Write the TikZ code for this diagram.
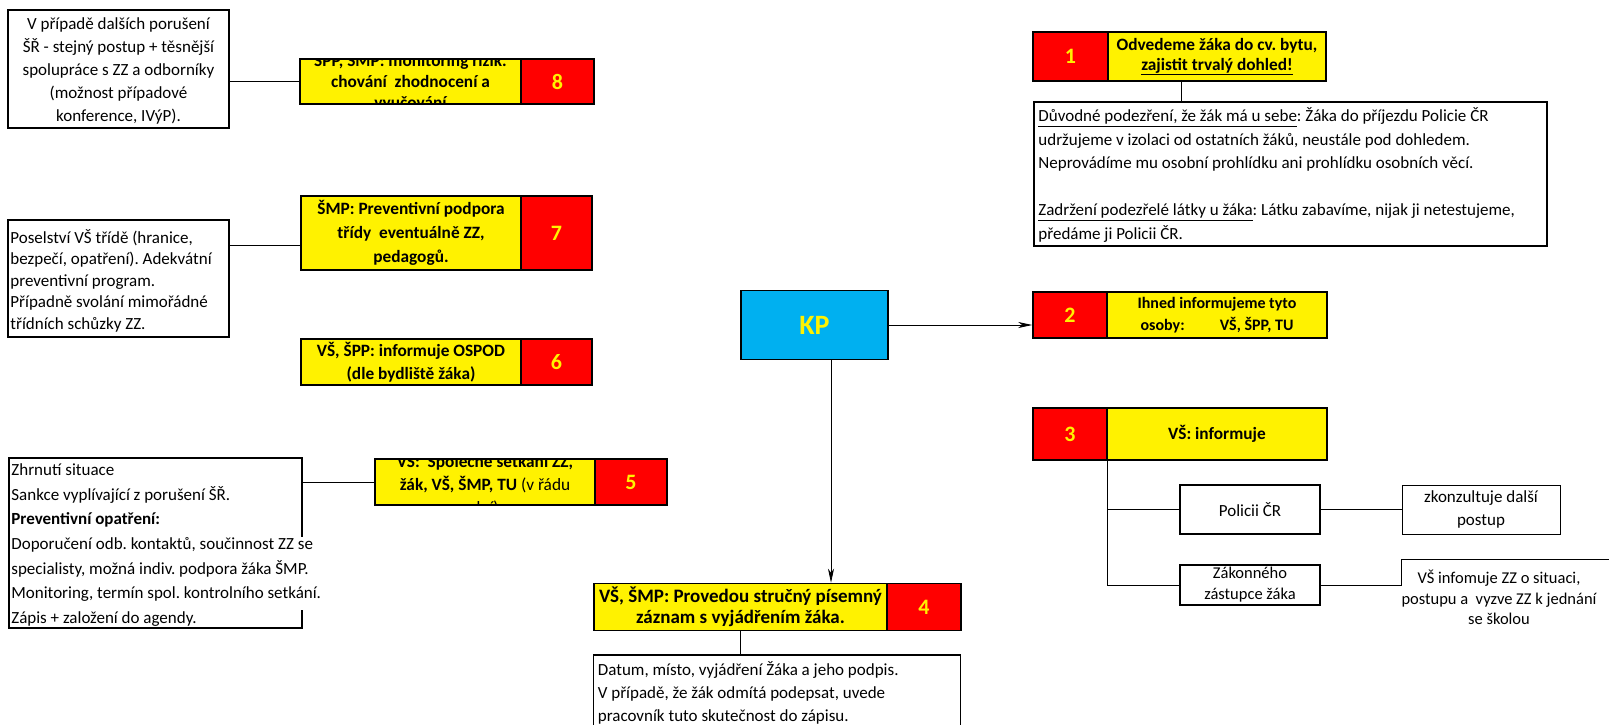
\documentclass[tikz,border=0pt]{standalone}
\usepackage{fontspec}
\setmainfont{Carlito}
\usetikzlibrary{arrows.meta}
\frenchspacing

\definecolor{kpblue}{HTML}{00B0F0}

\newcommand{\txtfont}{\fontsize{17}{23.5}\selectfont}
\newcommand{\hdfont}{\fontsize{17.3}{21.5}\selectfont\bfseries}
\newcommand{\numfont}{\fontsize{22}{24}\selectfont\bfseries}

\tikzset{
  ybox/.style={draw, line width=1.6pt, fill=yellow, inner sep=0pt, font=\hdfont, align=center},
  rbox/.style={draw, line width=1.6pt, fill=red, text=yellow, inner sep=0pt, font=\numfont},
  tbox/.style={draw, line width=1.6pt, fill=white, inner sep=0pt},
  txt/.style={inner sep=0pt, font=\txtfont, align=left},
  sbox/.style={draw, line width=1.4pt, inner sep=0pt, font=\txtfont, align=center},
  hdtext/.style={inner sep=0pt, font=\hdfont, align=center},
  conn/.style={line width=0.8pt},
}

\begin{document}
\begin{tikzpicture}
[x=1pt, y=-1pt, >={Stealth[length=14pt, width=6pt, inset=4pt]}]
\useasboundingbox (0,0) rectangle (1609,724);

% KP
\node[draw, line width=1.6pt, fill=kpblue, text=yellow, font=\fontsize{28}{30}\selectfont\bfseries,
  minimum width=147, minimum height=69] (kp) at (814.5,325) {KP};

% 1
\node[rbox, minimum width=75, minimum height=49] (r1) at (1070.5,56.5) {1};
\node[ybox, minimum width=218, minimum height=49, font=\fontsize{17.3}{20}\selectfont\bfseries] (y1) at (1217,56.5)
  {Odvedeme žáka do cv. bytu,\\\underline{zajistit trvalý dohled!}};
\node[tbox, minimum width=513, minimum height=144] (t1) at (1290.5,174) {};
\node[txt, anchor=west] (t1text) at ([xshift=5pt,yshift=-1pt]t1.west)
  {\underline{Důvodné podezření, že žák má u sebe}: Žáka do příjezdu Policie ČR\\
   udržujeme v izolaci od ostatních žáků, neustále pod dohledem.\\
   Neprovádíme mu osobní prohlídku ani prohlídku osobních věcí.\\[23.5pt]
   \underline{Zadržení podezřelé látky u žáka}: Látku zabavíme, nijak ji netestujeme,\\
   předáme ji Policii ČR.};
\coordinate (k1) at (1181,0);
\draw[conn] (y1.south -| k1) -- (t1.north -| k1);

% 2
\node[rbox, minimum width=74, minimum height=46] (r2) at (1070,315) {2};
\node[ybox, minimum width=220, minimum height=46, font=\fontsize{16}{21.5}\selectfont\bfseries] (y2) at (1217,315)
  {Ihned informujeme tyto\\osoby:\hspace{2.2em}VŠ, ŠPP, TU};
\draw[conn,->] (kp) -- (kp -| r2.west);

% 3
\node[rbox, minimum width=74, minimum height=52] (r3) at (1070,434) {3};
\node[ybox, minimum width=220, minimum height=52] (y3) at (1217,434) {VŠ: informuje};
\node[sbox, minimum width=140, minimum height=49] (pol) at (1250,509.5) {Policii ČR};
\node[sbox, line width=1pt, minimum width=158, minimum height=49, font=\fontsize{17}{23}\selectfont] (zk) at (1481,509.5)
  {zkonzultuje další\\postup};
\node[sbox, minimum width=140, minimum height=40, font=\fontsize{16.5}{21}\selectfont] (zak) at (1250,585)
  {Zákonného\\zástupce žáka};
\node[inner sep=0pt, align=center, font=\fontsize{16.5}{20.5}\selectfont] (vsi) at (1499,597.5)
  {VŠ infomuje ZZ o situaci,\\postupu a\ \ vyzve ZZ k jednání\\se školou};
\coordinate (vsiin) at (1401.7,585);
\draw[line width=1pt] (vsiin) |- (1620,559);
\draw[conn] (r3.south east) |- (pol.west);
\draw[conn] (r3.south east) |- (zak.west);
\draw[conn] (pol) -- (zk);
\draw[conn] (zak.east) -- (vsiin);

% 4
\node[ybox, minimum width=293, minimum height=47, font=\fontsize{19}{21.5}\selectfont\bfseries] (y4) at (740.5,607)
  {VŠ, ŠMP: Provedou stručný písemný\\záznam s vyjádřením žáka.};
\node[rbox, minimum width=74, minimum height=47] (r4) at (924,607) {4};
\node[tbox, minimum width=367, minimum height=78] (t4) at (777,694) {};
\node[txt, anchor=west, font=\fontsize{17}{23}\selectfont] (t4text) at ([xshift=5pt,yshift=1pt]t4.west)
  {Datum, místo, vyjádření Žáka a jeho podpis.\\
   V případě, že žák odmítá podepsat, uvede\\
   pracovník tuto skutečnost do zápisu.};
\draw[conn,->] ([xshift=16.5pt]kp.south) -- ([xshift=16.5pt]kp.south |- y4.north);
\draw[conn] (y4) -- (y4 |- t4.north);

% 5
\node[ybox, minimum width=220, minimum height=46] (y5) at (485,482) {};
\begin{scope}
\clip (y5.south west) rectangle (y5.north east);
\node[hdtext, font=\fontsize{17.3}{23}\selectfont\bfseries] (y5text) at ([yshift=-3pt]y5.center)
  {VŠ:\ \ Společné setkání ZZ,\\žák, VŠ, ŠMP, TU \textmd{(v řádu}\\\textmd{dní)}};
\end{scope}
\node[rbox, minimum width=72, minimum height=46] (r5) at (631,482) {5};
\node[tbox, minimum width=293, minimum height=170] (t5) at (155.5,543) {};
\fill[white] ([xshift=-2pt]t5.east |- 0,537) rectangle ([xshift=2pt]t5.east |- 0,610);
\node[txt, anchor=west, font=\fontsize{17}{24.7}\selectfont] (t5text) at ([xshift=3pt,yshift=-2pt]t5.west)
  {Zhrnutí situace\\
   Sankce vyplívající z porušení ŠŘ.\\
   \textbf{Preventivní opatření:}\\
   Doporučení odb. kontaktů, součinnost ZZ se\\
   specialisty, možná indiv. podpora žáka ŠMP.\\
   Monitoring, termín spol. kontrolního setkání.\\
   Zápis + založení do agendy.};
\draw[conn] (t5.east |- y5.west) -- (y5.west);

% 6
\node[ybox, minimum width=220, minimum height=46, font=\fontsize{17.3}{23.5}\selectfont\bfseries] (y6) at (411,362)
  {VŠ, ŠPP: informuje OSPOD\\(dle bydliště žáka)};
\node[rbox, minimum width=71, minimum height=46] (r6) at (556.5,362) {6};

% 7
\node[ybox, minimum width=220, minimum height=74, font=\fontsize{17.3}{24}\selectfont\bfseries] (y7) at (411,233)
  {ŠMP: Preventivní podpora\\třídy\ \ eventuálně ZZ,\\pedagogů.};
\node[rbox, minimum width=71, minimum height=74] (r7) at (556.5,233) {7};
\node[tbox, minimum width=221, minimum height=117] (t7) at (118.5,278.5) {};
\node[txt, anchor=west, font=\fontsize{17}{21.5}\selectfont] (t7text) at ([xshift=3pt,yshift=-2pt]t7.west)
  {Poselství VŠ třídě (hranice,\\
   bezpečí, opatření). Adekvátní\\
   preventivní program.\\
   Případně svolání mimořádné\\
   třídních schůzky ZZ.};
\coordinate (k7) at (0,245);
\draw[conn] (t7.east |- k7) -- (y7.west |- k7);

% 8
\node[ybox, minimum width=221, minimum height=45] (y8) at (410.5,81.5) {};
\begin{scope}
\clip (y8.south west) rectangle (y8.north east);
\node[hdtext, font=\fontsize{17.3}{21}\selectfont\bfseries] (y8text) at (y8.center)
  {ŠPP, ŠMP: monitoring rizik.\\chování\ \ zhodnocení a\\vyučování};
\end{scope}
\node[rbox, minimum width=73, minimum height=45] (r8) at (557.5,81.5) {8};
\node[tbox, minimum width=221, minimum height=118] (t8) at (118.5,69) {};
\node[txt, align=center, font=\fontsize{17}{23}\selectfont] (t8text) at ([yshift=-2pt]t8.center)
  {V případě dalších porušení\\
   ŠŘ - stejný postup + těsnější\\
   spolupráce s ZZ a odborníky\\
   (možnost případové\\
   konference, IVýP).};
\draw[conn] (t8.east |- y8.west) -- (y8.west);
\end{tikzpicture}
\end{document}
